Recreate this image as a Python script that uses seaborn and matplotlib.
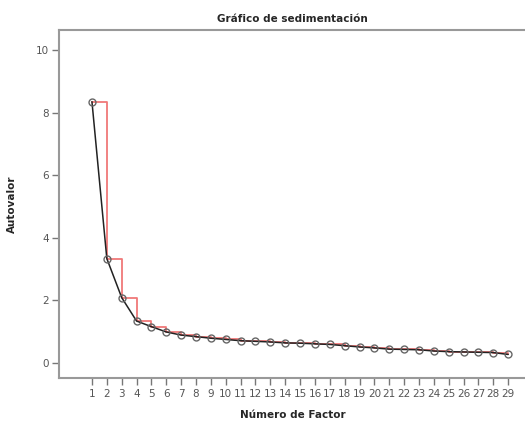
import pandas as pd
import numpy as np
import matplotlib
matplotlib.use("Agg")
import matplotlib.pyplot as plt
import seaborn as sns

sns.set_style(style="white")
plt.rcParams['font.family'] = ['DejaVu Sans']

# Eigenvalues
factores = list(range(1, 30))
autovalores = [8.35, 3.33, 2.08, 1.33, 1.15, 0.98, 0.88, 0.83, 0.78, 0.74,
               0.70, 0.68, 0.66, 0.63, 0.62, 0.60, 0.58, 0.54, 0.50, 0.47,
               0.43, 0.42, 0.41, 0.37, 0.35, 0.34, 0.33, 0.32, 0.26]
yticks = [0, 2, 4, 6, 8, 10]

df = pd.DataFrame({'Factor': factores, 'Autovalor': autovalores})

fig = plt.figure(figsize=(5.25, 4.24), dpi=100)
ax = fig.add_axes([0.112, 0.108, 0.89, 0.821])

# red step line
sns.lineplot(data=df, x='Factor', y='Autovalor', ax=ax, color='#f07878',
             linewidth=1.3, drawstyle='steps-post', zorder=2)
# black line with open circles
sns.lineplot(data=df, x='Factor', y='Autovalor', ax=ax, color='#222222',
             linewidth=1.1, marker='o', markersize=5, markerfacecolor='none',
             markeredgecolor='#666666', markeredgewidth=1.0, zorder=3)

ax.set_xlim(-1.23, 30.2)
ax.set_ylim(-0.5, 10.64)
ax.set_xticks(factores)
ax.set_xticklabels([str(f) for f in factores])
ax.set_yticks(yticks)
ax.tick_params(axis='both', bottom=True, left=True, direction='out', length=5,
               width=1, color='#777777', labelsize=7.5, labelcolor='#555555')
ax.tick_params(axis='x', pad=3)
ax.tick_params(axis='y', pad=2)

for s in ax.spines.values():
    s.set_color('#999999')
    s.set_linewidth(1.5)
ax.spines['right'].set_visible(False)

ax.set_title('Gráfico de sedimentación', fontsize=7.5, fontweight='bold', pad=6)
ax.set_xlabel('Número de Factor', fontsize=7.5, fontweight='bold', labelpad=8)
ax.set_ylabel('Autovalor', fontsize=7.5, fontweight='bold', labelpad=14)

fig.savefig('out.png', dpi=100)
